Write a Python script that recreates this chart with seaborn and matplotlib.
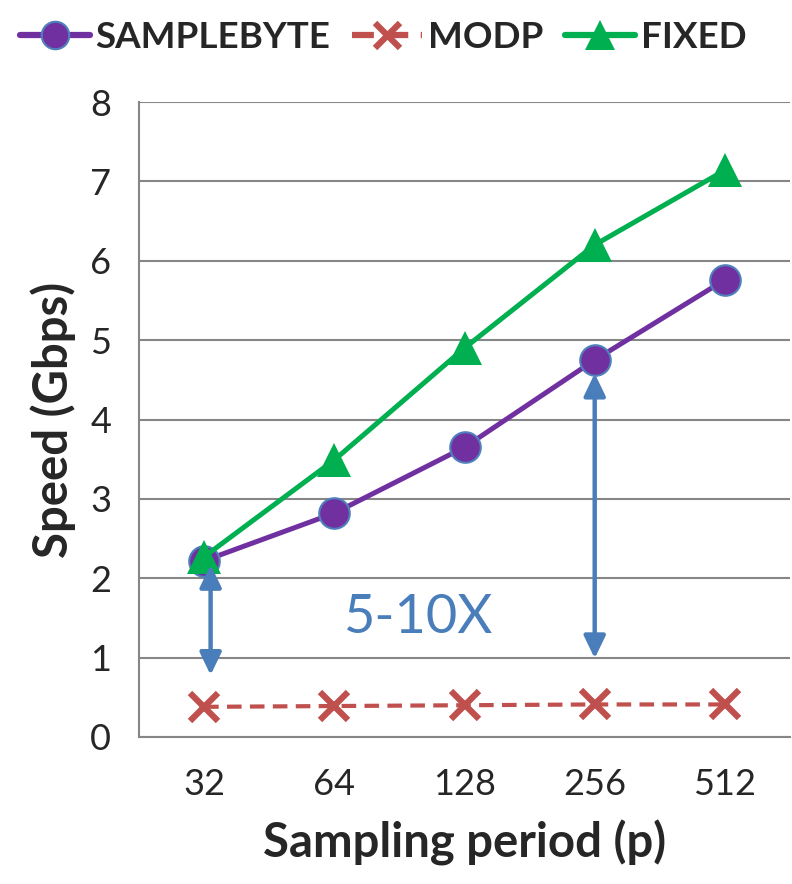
import numpy as np
import pandas as pd
import seaborn as sns
import matplotlib.pyplot as plt

sns.set_style('white')
plt.rcParams['font.family'] = ['Lato', 'DejaVu Sans']

periods = ['32', '64', '128', '256', '512']
samplebyte = [2.22, 2.82, 3.65, 4.75, 5.76]
modp = [0.38, 0.39, 0.40, 0.41, 0.41]
fixed = [2.27, 3.49, 4.90, 6.20, 7.14]

df = pd.DataFrame({'pos': np.arange(len(periods)),
                   'SAMPLEBYTE': samplebyte, 'MODP': modp, 'FIXED': fixed})

fig = plt.figure(figsize=(7.92, 8.84), dpi=100)
ax = fig.add_axes([0.1755, 0.1663, 0.822, 0.7183])

sns.lineplot(data=df, x='pos', y='SAMPLEBYTE', ax=ax, color='#7030A0', lw=3.6,
             marker='o', markersize=22, markerfacecolor='#7030A0',
             markeredgecolor='#4F81BD', markeredgewidth=1.5, label='SAMPLEBYTE')
sns.lineplot(data=df, x='pos', y='MODP', ax=ax, color='#C0504D', lw=3.0,
             linestyle=(0, (3.5, 2)), marker='x', markersize=20,
             markeredgecolor='#C0504D', markeredgewidth=4.5, label='MODP')
sns.lineplot(data=df, x='pos', y='FIXED', ax=ax, color='#00B050', lw=3.6,
             marker='^', markersize=24, markeredgewidth=0, label='FIXED')

# gap arrows
arrow_kw = dict(arrowstyle='<|-|>,head_length=1.35,head_width=0.65', color='#4A7EBB',
                lw=3.2, shrinkA=0, shrinkB=0)
ax.annotate('', xy=(0.05, 0.78), xytext=(0.05, 2.17), arrowprops=arrow_kw)
ax.annotate('', xy=(3.0, 0.99), xytext=(3.0, 4.58), arrowprops=arrow_kw)
ax.text(1.64, 1.5, '5-10X', color='#4A7EBB', fontsize=39, ha='center', va='center')

ax.set_xlim(-0.5, len(periods) - 0.5)
ax.set_ylim(0, 8)
ax.set_yticks(range(0, 9))
ax.set_xticks(df['pos'])
ax.set_xticklabels(periods)
ax.set_xticks(np.arange(-0.5, len(periods)), minor=True)
ax.tick_params(axis='x', which='major', length=0, labelsize=26, pad=22)
ax.tick_params(axis='x', which='minor', length=12, width=1.5, color='#868686', direction='out')
ax.tick_params(axis='y', length=10, width=1.5, color='#868686', direction='out', labelsize=26, pad=10)
ax.yaxis.grid(True, color='#868686', lw=1.5)
ax.xaxis.grid(False)
for s in ['top', 'right']:
    ax.spines[s].set_visible(False)
for s in ['left', 'bottom']:
    ax.spines[s].set_color('#868686')
    ax.spines[s].set_linewidth(1.5)

ax.set_xlabel('Sampling period (p)', fontsize=34, fontweight='bold', labelpad=14)
ax.set_ylabel('Speed (Gbps)', fontsize=34, fontweight='bold', labelpad=10)

leg = ax.legend(loc='lower center', bbox_to_anchor=(0.375, 1.0), ncol=3, frameon=False,
                prop={'weight': 'bold', 'size': 26.5}, handlelength=1.9,
                handletextpad=0.15, columnspacing=0.6, markerscale=0.9,
                borderaxespad=0.9)
for h in leg.legend_handles:
    h.set_linewidth(4.5)

fig.savefig('out.png', dpi=100)
